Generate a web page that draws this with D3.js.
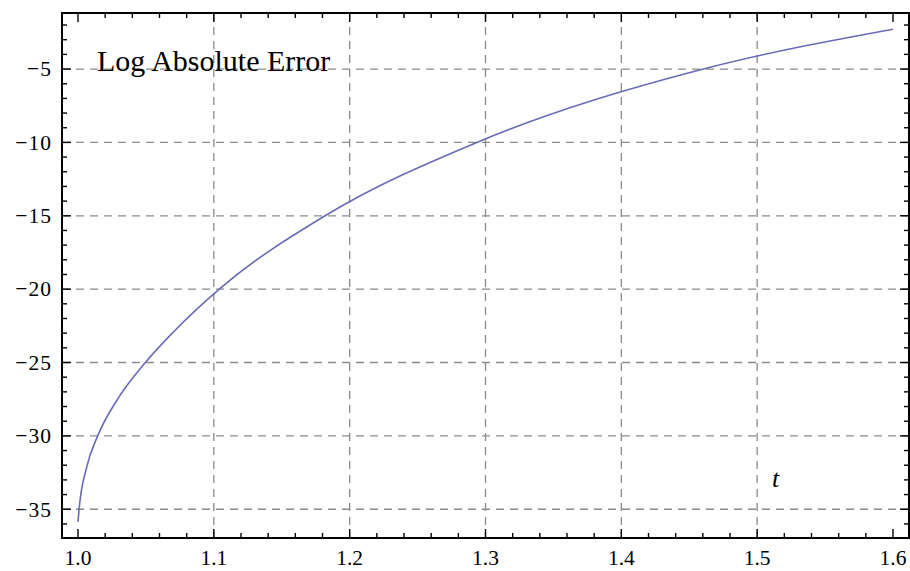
<!DOCTYPE html>
<html><head><meta charset="utf-8">
<script src="https://cdn.jsdelivr.net/npm/d3@7"></script>
<style>
html,body{margin:0;padding:0;background:#fff;}
svg{display:block;}
text{font-family:"Liberation Serif","Times New Roman",serif;fill:#000;}
</style></head>
<body>
<svg id="c" width="910" height="571"></svg>
<script>
// Data
const tValues = [1.0, 1.0008, 1.0065, 1.0145, 1.0287, 1.0496, 1.0692, 1.104, 1.1819, 1.2936, 1.4604, 1.6];
const logErrValues = [-35.86, -35, -32.1, -30, -27.56, -25, -23.02, -20, -15, -10, -5, -2.29];
const xTicks = [1.0, 1.1, 1.2, 1.3, 1.4, 1.5, 1.6];
const xTickLabels = ["1.0", "1.1", "1.2", "1.3", "1.4", "1.5", "1.6"];
const yTicks = [-35, -30, -25, -20, -15, -10, -5];
const yTickLabels = ["\u221235", "\u221230", "\u221225", "\u221220", "\u221215", "\u221210", "\u22125"];
const xGrid = [1.1, 1.2, 1.3, 1.4, 1.5];
const yGrid = [-35, -30, -25, -20, -15, -10, -5];
const plotLabel = "Log Absolute Error";
const axisLabel = "t";

const svg = d3.select("#c");
const frame = {left: 62, right: 909, top: 13, bottom: 538};

const x = d3.scaleLinear().domain([0.98822, 1.61178]).range([frame.left, frame.right]);
const y = d3.scaleLinear().domain([-36.96, -1.18]).range([frame.bottom, frame.top]);

// grid
const g = svg.append("g");
g.selectAll("line.vg").data(xGrid).join("line")
  .attr("x1", d => x(d)).attr("x2", d => x(d))
  .attr("y1", frame.top).attr("y2", frame.bottom)
  .attr("stroke", "#8a8a8a").attr("stroke-width", 1.3).attr("stroke-dasharray", "8,6");
g.selectAll("line.hg").data(yGrid).join("line")
  .attr("y1", d => y(d)).attr("y2", d => y(d))
  .attr("x1", frame.left).attr("x2", frame.right)
  .attr("stroke", "#8a8a8a").attr("stroke-width", 1.3).attr("stroke-dasharray", "8,6");

// curve
const line = d3.line().x((d, i) => x(tValues[i])).y(d => y(d)).curve(d3.curveMonotoneX);
svg.append("path").attr("d", line(logErrValues))
  .attr("fill", "none").attr("stroke", "#6a6ab8").attr("stroke-width", 1.6);

// ticks
const xMinor = d3.range(1.0, 1.6001, 0.02).filter(v => !xTicks.some(t => Math.abs(t - v) < 1e-6));
const yMinor = d3.range(-36, -1.5, 1).filter(v => !yTicks.includes(v));
const tk = svg.append("g").attr("stroke", "#000").attr("stroke-width", 1.4);
const maj = 9, mnr = 5;
xTicks.forEach(v => {
  tk.append("line").attr("x1", x(v)).attr("x2", x(v)).attr("y1", frame.bottom).attr("y2", frame.bottom - maj);
  tk.append("line").attr("x1", x(v)).attr("x2", x(v)).attr("y1", frame.top).attr("y2", frame.top + maj);
});
xMinor.forEach(v => {
  tk.append("line").attr("x1", x(v)).attr("x2", x(v)).attr("y1", frame.bottom).attr("y2", frame.bottom - mnr);
  tk.append("line").attr("x1", x(v)).attr("x2", x(v)).attr("y1", frame.top).attr("y2", frame.top + mnr);
});
yTicks.forEach(v => {
  tk.append("line").attr("y1", y(v)).attr("y2", y(v)).attr("x1", frame.left).attr("x2", frame.left + maj);
  tk.append("line").attr("y1", y(v)).attr("y2", y(v)).attr("x1", frame.right).attr("x2", frame.right - maj);
});
yMinor.forEach(v => {
  tk.append("line").attr("y1", y(v)).attr("y2", y(v)).attr("x1", frame.left).attr("x2", frame.left + mnr);
  tk.append("line").attr("y1", y(v)).attr("y2", y(v)).attr("x1", frame.right).attr("x2", frame.right - mnr);
});

// frame
svg.append("rect").attr("x", frame.left).attr("y", frame.top)
  .attr("width", frame.right - frame.left).attr("height", frame.bottom - frame.top)
  .attr("fill", "none").attr("stroke", "#000").attr("stroke-width", 2);

// labels
svg.append("g").selectAll("text").data(xTicks).join("text")
  .attr("x", d => x(d)).attr("y", 565).attr("text-anchor", "middle")
  .attr("font-size", 21.5).text((d, i) => xTickLabels[i]);
svg.append("g").selectAll("text").data(yTicks).join("text")
  .attr("x", 52).attr("y", d => y(d)).attr("dy", "0.34em").attr("text-anchor", "end")
  .attr("font-size", 21.5).attr("letter-spacing", 1).text((d, i) => yTickLabels[i]);

svg.append("text").attr("x", 97).attr("y", 71).attr("font-size", 30).text(plotLabel);
svg.append("text").attr("x", 772).attr("y", 487).attr("font-size", 26)
  .attr("font-style", "italic").text(axisLabel);
</script>
</body></html>
